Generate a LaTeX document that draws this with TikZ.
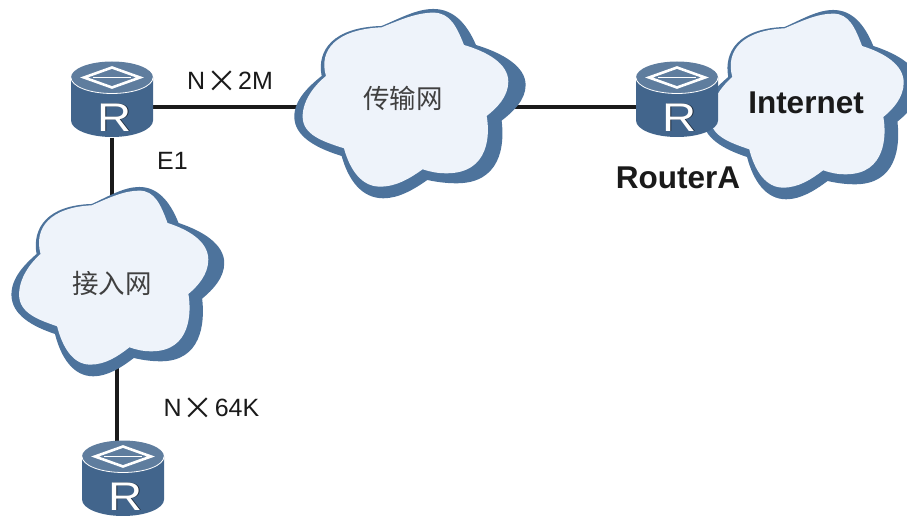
\documentclass[tikz,border=0pt]{standalone}
\usepackage{fontspec}
\setmainfont{Liberation Sans}
\newfontfamily\cjk{Noto Sans CJK SC}
\usetikzlibrary{backgrounds}
\definecolor{routerbody}{HTML}{42658C}
\definecolor{routertop}{HTML}{5F7D9E}
\definecolor{cloudedge}{HTML}{4D739C}
\definecolor{cloudfill}{HTML}{EEF3FA}
\definecolor{labelink}{HTML}{1A1A1A}
\tikzset{
  hitbox/.style={inner sep=0pt, minimum width=82pt, minimum height=60pt},
  link/.style={color=labelink, line width=4pt},
  linklabel/.style={font=\fontsize{25}{25}\selectfont, text=labelink, inner sep=0pt, anchor=base},
  boldlabel/.style={font=\fontsize{31.5}{31.5}\selectfont\bfseries, text=labelink, inner sep=0pt},
  netlabel/.style={font=\fontsize{26.5}{26.5}\selectfont\cjk, text=black!75, inner sep=0pt},
  routerletter/.style={font=\fontsize{40}{40}\selectfont, inner sep=0pt, transform shape, xscale=1.18},
}
\newcommand{\timesmark}{\hspace{1pt}\raisebox{-3pt}{\cjk\fontsize{31}{31}\selectfont ×}\hspace{1pt}}
% router: #1 name, #2 x, #3 y of the link
\newcommand{\router}[3]{
  \node[hitbox] (#1) at (#2,#3) {};
  \begin{scope}[shift={(#2,#3)}]
    \fill[routerbody] (-41,-30) -- (-41,13) arc[start angle=180, end angle=0, x radius=41, y radius=16.5] -- (41,-30) -- cycle;
    \fill[routertop] (0,-30) ellipse (41 and 16);
    \draw[white, line width=0.8pt] (-41,-30) arc[start angle=180, end angle=0, x radius=41, y radius=16];
    \draw[white, line width=2.6pt] (-28,-30) -- (0,-40) -- (28,-30) -- (0,-20) -- cycle;
    \draw[white, line width=1pt] (-19,-30) -- (19,-30);
    \node[routerletter, text=black!60!routerbody] (#1shadow) at (3.8,10.6) {R};
    \node[routerletter, text=white] (#1letter) at (3,10) {R};
  \end{scope}
}
% cloud outline: #1 x, #2 y, #3 width factor
\newcommand{\netcloud}[3]{
  \begin{scope}[shift={(#1,#2)}, xscale=#3/3, yscale=1/3, shift={(-340,-295)}]
    \fill[cloudedge] (275,78) .. controls (330,55) and (380,27) .. (430,27)
      .. controls (490,27) and (530,70) .. (558,135)
      .. controls (640,160) and (707,200) .. (707,255)
      .. controls (707,300) and (670,335) .. (635,362)
      .. controls (645,440) and (630,550) .. (500,550)
      .. controls (465,550) and (435,545) .. (412,540)
      .. controls (370,570) and (325,595) .. (280,595)
      .. controls (215,595) and (175,540) .. (155,468)
      .. controls (80,445) and (13,410) .. (13,350)
      .. controls (13,300) and (55,260) .. (95,228)
      .. controls (80,150) and (130,82) .. (275,78) -- cycle;
    \fill[cloudfill] (275,82) .. controls (330,60) and (380,38) .. (430,38)
      .. controls (480,38) and (500,80) .. (522,135)
      .. controls (590,155) and (655,190) .. (655,245)
      .. controls (655,290) and (620,325) .. (590,348)
      .. controls (600,400) and (600,520) .. (470,520)
      .. controls (440,520) and (420,515) .. (398,508)
      .. controls (360,535) and (320,560) .. (270,560)
      .. controls (215,560) and (180,510) .. (162,445)
      .. controls (100,425) and (38,405) .. (38,350)
      .. controls (38,300) and (75,255) .. (108,228)
      .. controls (85,150) and (140,88) .. (275,82) -- cycle;
  \end{scope}
}
\begin{document}
\begin{tikzpicture}[x=1pt, y=-1pt]
\useasboundingbox (0,0) rectangle (907,516);
\netcloud{403.3}{98.3}{1}
\netcloud{111.7}{276.3}{0.92}
\netcloud{805}{99.3}{0.94}
\node[netlabel] (transnet) at (403,98) {传输网};
\node[netlabel] (accessnet) at (112,283) {接入网};
\node[boldlabel] (internet) at (806,103) {Internet};
\router{rone}{112}{107.5}
\router{routera}{677}{107.5}
\router{rthree}{123}{486.5}
\begin{scope}[on background layer]
\draw[link] (rone) -- (rone -| transnet);
\draw[link] (routera) -- (routera -| transnet);
\draw[link] (rone) -- (rone |- accessnet);
\draw[link] ([xshift=-6.5pt]rthree.center) -- ([xshift=-6.5pt]rthree.center |- accessnet);
\end{scope}
\node[linklabel] (ntwo) at (230,89.5) {N\timesmark 2M};
\node[linklabel] (eone) at (172.5,169) {E1};
\node[linklabel] (nsixtyfour) at (211.5,416) {N\timesmark 64K};
\node[boldlabel] (routeraname) at (678,178) {RouterA};
\end{tikzpicture}
\end{document}
